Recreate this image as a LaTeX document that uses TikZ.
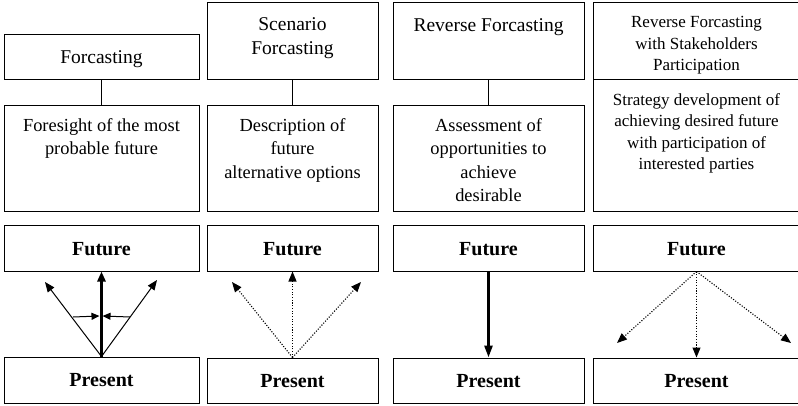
\documentclass[tikz,border=0pt]{standalone}
\usepackage{fontspec}
\setmainfont{Liberation Serif}
\usetikzlibrary{arrows.meta}
\newcommand\myfs[2]{\fontsize{#1}{#2}\selectfont}
\begin{document}
\begin{tikzpicture}[x=1pt,y=-1pt,
  box/.style={draw, line width=1pt, inner sep=0pt, minimum height=45pt},
  txt/.style={inner sep=0pt, align=center},
  ttl/.style={txt, font=\myfs{19.5}{24}},
  dsc/.style={txt, font=\myfs{18.4}{23.3}},
  tp/.style={txt, font=\myfs{20}{24}\bfseries, anchor=base},
  tip/.style={-{Triangle[length=10pt,width=8pt]}},
  thin/.style={tip, line width=1pt},
  thick/.style={-{Triangle[length=10pt,width=8pt]}, line width=2.6pt},
  dots/.style={tip, line width=1.1pt, dash pattern=on 1.1pt off 1.6pt},
  small/.style={-{Triangle[length=8pt,width=7pt]}, line width=1pt}]
\clip (0,0) rectangle (798,406);
\fill[white] (0,0) rectangle (798,406);
% column 1
\node[box, minimum width=195pt] (t1) at (101.5,57.5) {};
\node[box, minimum width=195pt, minimum height=106pt] (d1) at (101.5,159) {};
\node[box, minimum width=195pt] (f1) at (101.5,248.5) {};
\node[box, minimum width=195pt, minimum height=46pt] (p1) at (101.5,380) {};
\draw[line width=1pt] (t1.south) -- (d1.north);
\node[ttl, anchor=base] (t1x) at (101.5,64) {Forcasting};
\node[dsc, anchor=north] (d1x) at (101.5,118.5) {Foresight of the most\\probable future};
\node[tp] (f1x) at (101.5,255) {Future};
\node[tp] (p1x) at (101.5,386.5) {Present};
\coordinate (l1) at (45,282);
\coordinate (r1) at (157,280);
\coordinate (sl) at (73,317);
\coordinate (sr) at (130,317);
\coordinate (cl) at (99.5,316);
\coordinate (cr) at (102.5,316);
\draw[thick] (p1.north) -- (f1.south);
\draw[thin] (p1.north) -- (l1);
\draw[thin] (p1.north) -- (r1);
\draw[small] (sl) -- (cl);
\draw[small] (sr) -- (cr);
% column 2
\node[box, minimum width=171pt, minimum height=77pt] (t2) at (292.5,41.5) {};
\node[box, minimum width=171pt, minimum height=106pt] (d2) at (292.5,159) {};
\node[box, minimum width=171pt] (f2) at (292.5,248.5) {};
\node[box, minimum width=171pt, minimum height=45pt] (p2) at (292.5,380.5) {};
\draw[line width=1pt] (t2.south) -- (d2.north);
\node[ttl, anchor=north] (t2x) at (292.5,17.5) {Scenario\\Forcasting};
\node[dsc, anchor=north] (d2x) at (292.5,118.5) {Description of\\future\\alternative options};
\node[tp] (f2x) at (292.5,255) {Future};
\node[tp] (p2x) at (292.5,387) {Present};
\coordinate (l2) at (232,282);
\coordinate (r2) at (361,282);
\draw[dots] (p2.north) -- (f2.south);
\draw[dots] (p2.north) -- (l2);
\draw[dots] (p2.north) -- (r2);
% column 3
\node[box, minimum width=191pt, minimum height=77pt] (t3) at (488.5,41.5) {};
\node[box, minimum width=191pt, minimum height=106pt] (d3) at (488.5,159) {};
\node[box, minimum width=191pt] (f3) at (488.5,248.5) {};
\node[box, minimum width=191pt, minimum height=45pt] (p3) at (488.5,380.5) {};
\draw[line width=1pt] (t3.south) -- (d3.north);
\node[ttl, anchor=base] (t3x) at (488.5,31.7) {Reverse Forcasting};
\node[dsc, anchor=north] (d3x) at (488.5,118.5) {Assessment of\\opportunities to\\achieve\\desirable};
\node[tp] (f3x) at (488.5,255) {Future};
\node[tp] (p3x) at (488.5,387) {Present};
\draw[thick, -{Triangle[length=12pt,width=8pt]}] (f3.south) -- (p3.north);
% column 4
\node[box, minimum width=207pt, minimum height=77pt] (t4) at (696.5,41.5) {};
\node[box, minimum width=207pt, minimum height=132pt] (d4) at (696.5,146) {};
\node[box, minimum width=207pt] (f4) at (696.5,248.5) {};
\node[box, minimum width=207pt, minimum height=45pt] (p4) at (696.5,380.5) {};
\node[txt, font=\myfs{17}{21.5}, anchor=north] (t4x) at (696.5,16.5) {Reverse Forcasting\\with Stakeholders\\Participation};
\node[txt, font=\myfs{17}{21.3}, anchor=north] (d4x) at (696.5,93.4) {Strategy development of\\achieving desired future\\with participation of\\interested parties};
\node[tp] (f4x) at (696.5,255) {Future};
\node[tp] (p4x) at (696.5,387) {Present};
\coordinate (l4) at (617,343);
\coordinate (r4) at (791,343);
\draw[dots] (f4.south) -- (p4.north);
\draw[dots] (f4.south) -- (l4);
\draw[dots] (f4.south) -- (r4);
\end{tikzpicture}
\end{document}
